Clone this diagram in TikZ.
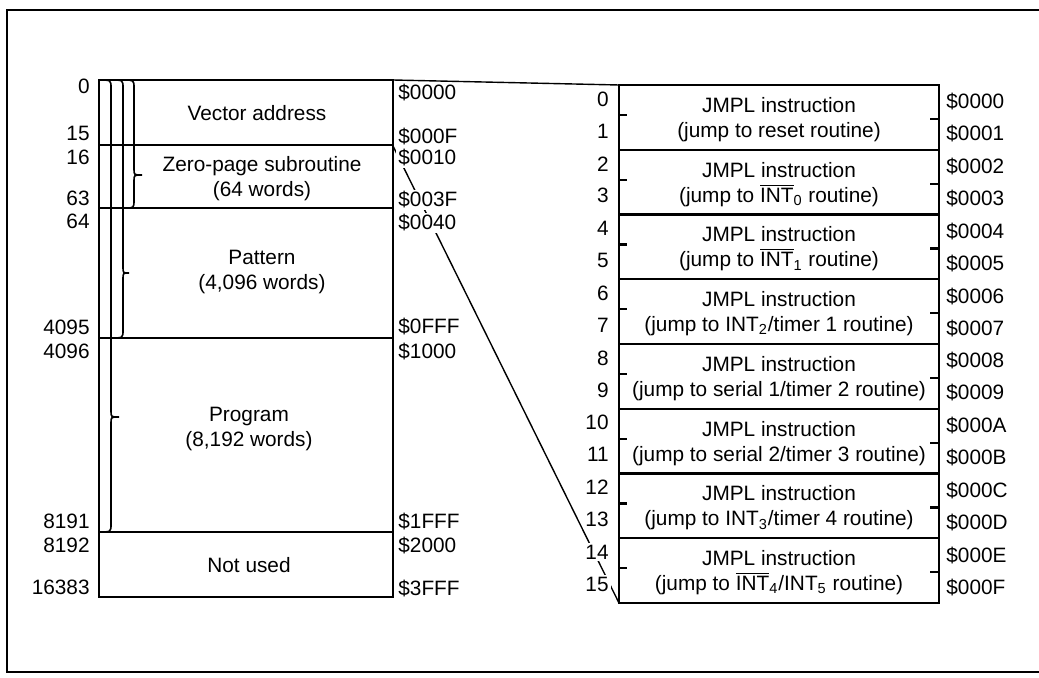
\documentclass[tikz,border=0pt]{standalone}
\usepackage{fontspec}
\setmainfont{Liberation Sans}
\usepackage{tikz}
\newcommand{\ovINT}{$\overline{\hbox{INT}}$}

\begin{document}
\begin{tikzpicture}[x=0.5pt,y=-0.5pt,
        every node/.style={font=\fontsize{10.4}{12.5}\selectfont},
        numnode/.style={anchor=east, fill=white, inner sep=1pt},
        addrnode/.style={anchor=west, fill=white, inner sep=1pt},
        textnode/.style={align=center, inner sep=1pt},
        box/.style={line width=1.1pt},
        bracket/.style={line width=0.8pt}]
            \useasboundingbox (0,0) rectangle (1039,678);
            \draw[line width=1.2pt] (1045,10) -- (7,10) -- (7,672) -- (1045,672);

            \coordinate (Ltop) at (393,80);
            \coordinate (Lvec) at (393,146);
            \coordinate (Rtop) at (619,85);
            \coordinate (Rbot) at (619,603);

            \draw[box] (99,80) rectangle (393,597);
            \foreach \y in {145,208,338,532} \draw[box] (99,\y) -- (393,\y);

            \draw[bracket] (99,80) .. controls (111,80) .. (111,88) -- (111,411) .. controls (111,417) .. (119,417)
                .. controls (111,417) .. (111,423) -- (111,524) .. controls (111,532) .. (99,532);
            \draw[bracket] (111,80) .. controls (123,80) .. (123,88) -- (123,267) .. controls (123,273) .. (129,273)
                .. controls (123,273) .. (123,279) -- (123,330) .. controls (123,338) .. (111,338);
            \draw[bracket] (123,80) .. controls (134,80) .. (134,88) -- (134,169) .. controls (134,175) .. (142,175)
                .. controls (134,175) .. (134,181) -- (134,200) .. controls (134,208) .. (125,208);

            \draw[box] (619,85) rectangle (939,603);
            \foreach \i in {1,...,7} \draw[box] (619,{85+64.75*\i}) -- (939,{85+64.75*\i});
            \foreach \i in {0,...,7} {
                \draw[box] (619,{115+64.75*\i}) -- +(8,0);
                \draw[box] (939,{119+64.75*\i}) -- +(-9,0);
            }

            \draw[line width=0.7pt] (Ltop) -- (Rtop);
            \draw[line width=0.7pt] (Lvec) -- (Rbot);

            \foreach \t/\y in {0/86,15/133,16/157,63/198,64/221,4095/327,4096/351,8191/521,8192/545,16383/587}
                \node[numnode] (l\t) at (92,\y) {\t};
            \foreach \t/\y in {0000/93,000F/137,0010/158,003F/200,0040/223,0FFF/327,1000/352,1FFF/522,2000/546,3FFF/589}
                \node[addrnode] (a\t) at (396,\y) {\$\t};

            \node[textnode] (vec) at (257,113) {Vector address};
            \node[textnode] (zp) at (262,178.5) {Zero-page subroutine\\(64 words)};
            \node[textnode] (pat) at (262,272) {Pattern\\(4,096 words)};
            \node[textnode] (prog) at (249,428.5) {Program\\(8,192 words)};
            \node[textnode] (nu) at (249,565) {Not used};

            \foreach \i/\ha/\hb in {0/0/1,1/2/3,2/4/5,3/6/7,4/8/9,5/A/B,6/C/D,7/E/F} {
                \pgfmathtruncatemacro\na{2*\i}
                \pgfmathtruncatemacro\nb{2*\i+1}
                \node[numnode] (n\na) at (611,{99+64.75*\i}) {\na};
                \node[numnode] (n\nb) at (611,{131+64.75*\i}) {\nb};
                \node[addrnode] (r\na) at (944,{102+64.75*\i}) {\$000\ha};
                \node[addrnode] (r\nb) at (944,{134+64.75*\i}) {\$000\hb};
            }

            \node[textnode] (j0) at (779,119.5) {JMPL instruction\\(jump to reset routine)};
            \node[textnode] (j1) at (779,184.25) {JMPL instruction\\(jump to \ovINT\textsubscript{0} routine)};
            \node[textnode] (j2) at (779,249) {JMPL instruction\\(jump to \ovINT\textsubscript{1} routine)};
            \node[textnode] (j3) at (779,313.75) {JMPL instruction\\(jump to INT\textsubscript{2}/timer 1 routine)};
            \node[textnode] (j4) at (779,378.5) {JMPL instruction\\(jump to serial 1/timer 2 routine)};
            \node[textnode] (j5) at (779,443.25) {JMPL instruction\\(jump to serial 2/timer 3 routine)};
            \node[textnode] (j6) at (779,508) {JMPL instruction\\(jump to INT\textsubscript{3}/timer 4 routine)};
            \node[textnode] (j7) at (779,572.75) {JMPL instruction\\(jump to \ovINT\textsubscript{4}/INT\textsubscript{5} routine)};

        \end{tikzpicture}
\end{document}
